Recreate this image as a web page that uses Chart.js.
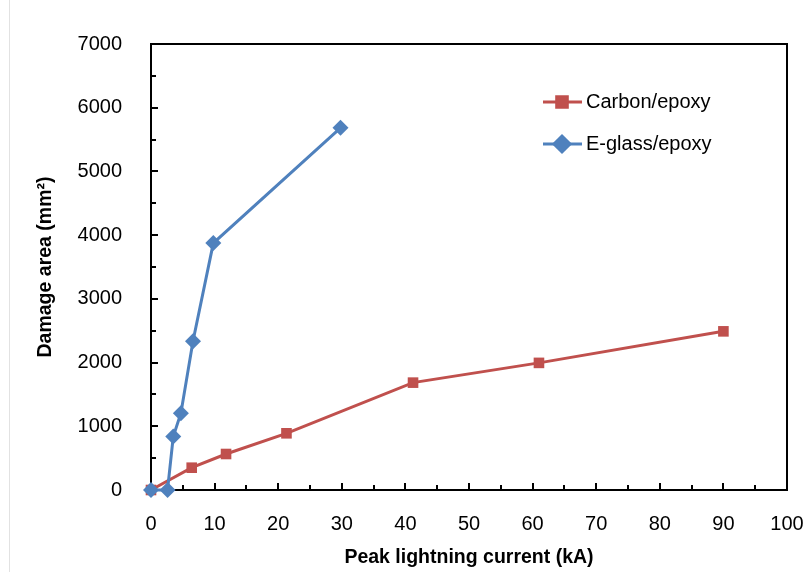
<!DOCTYPE html>
<html>
<head>
<meta charset="utf-8">
<script src="https://cdn.jsdelivr.net/npm/chart.js@4/dist/chart.umd.min.js"></script>
<style>
  html, body { margin: 0; padding: 0; background: #fff; }
  #wrap { position: relative; width: 806px; height: 572px; }
  #edge { position: absolute; left: 9px; top: 0; bottom: 0; border-left: 1px solid #e2e2e2; }
</style>
</head>
<body>
<div id="wrap">
  <div id="edge"></div>
  <canvas id="chart" width="806" height="572"></canvas>
</div>
<script>
// Peak current (kA) vs damage area (mm2)
const carbonX = [0, 6.4, 11.8, 21.3, 41.2, 61, 90];
const carbonY = [0, 350, 565, 890, 1685, 1995, 2490];
const glassX = [0, 2.6, 3.5, 4.7, 6.6, 9.8, 29.8];
const glassY = [0, 0, 840, 1205, 2335, 3875, 5685];

const seriesNames = ['Carbon/epoxy', 'E-glass/epoxy'];
const xTicks = [0, 10, 20, 30, 40, 50, 60, 70, 80, 90, 100];
const yTicks = [0, 1000, 2000, 3000, 4000, 5000, 6000, 7000];

const RED = '#C0504D';
const BLUE = '#4F81BD';
const FONT = "'Liberation Sans', Arial, sans-serif";

const toPoints = (xs, ys) => xs.map((x, i) => ({ x, y: ys[i] }));

// box around the plot, inside ticks (major + minor) and the legend
const framePlugin = {
  id: 'frame',
  beforeDatasetsDraw(chart) {
    const { ctx, chartArea: a, scales: { x, y } } = chart;
    ctx.save();
    ctx.strokeStyle = '#000';
    ctx.lineWidth = 2;
    ctx.beginPath();
    for (let v = 5; v < 100; v += 5) {
      const px = Math.round(x.getPixelForValue(v));
      const len = v % 10 === 0 ? 7 : 5;
      ctx.moveTo(px, a.bottom);
      ctx.lineTo(px, a.bottom - len);
    }
    for (let v = 500; v < 7000; v += 500) {
      const py = Math.round(y.getPixelForValue(v));
      const len = v % 1000 === 0 ? 7 : 5;
      ctx.moveTo(a.left, py);
      ctx.lineTo(a.left + len, py);
    }
    ctx.stroke();
    ctx.strokeRect(a.left, a.top, a.right - a.left, a.bottom - a.top);
    ctx.restore();
  },
  afterDraw(chart) {
    const { ctx } = chart;
    const rows = [
      { ds: chart.data.datasets[1], y: 102 },
      { ds: chart.data.datasets[0], y: 144 },
    ];
    ctx.save();
    rows.forEach(({ ds, y }) => {
      ctx.strokeStyle = ds.borderColor;
      ctx.lineWidth = 3;
      ctx.beginPath();
      ctx.moveTo(543, y);
      ctx.lineTo(582, y);
      ctx.stroke();
      Chart.helpers.drawPoint(ctx, {
        pointStyle: ds.pointStyle,
        radius: ds.pointRadius,
        borderWidth: 1,
      }, 562, y);
      ctx.fillStyle = ds.pointBackgroundColor;
      ctx.fill();
      ctx.fillStyle = '#000';
      ctx.font = '20px ' + FONT;
      ctx.textBaseline = 'middle';
      ctx.textAlign = 'left';
      ctx.fillText(ds.label, 586, y);
    });
    ctx.restore();
  },
};

new Chart(document.getElementById('chart'), {
  type: 'scatter',
  data: {
    datasets: [
      {
        label: seriesNames[1],
        data: toPoints(glassX, glassY),
        showLine: true,
        clip: false,
        borderColor: BLUE,
        borderWidth: 3,
        pointStyle: 'rectRot',
        pointRadius: 8,
        pointBackgroundColor: BLUE,
        pointBorderColor: BLUE,
        pointBorderWidth: 0,
        order: 0,
      },
      {
        label: seriesNames[0],
        data: toPoints(carbonX, carbonY),
        showLine: true,
        clip: false,
        borderColor: RED,
        borderWidth: 3,
        pointStyle: 'rect',
        pointRadius: 7.5,
        pointBackgroundColor: RED,
        pointBorderColor: RED,
        pointBorderWidth: 0,
        order: 1,
      },
    ],
  },
  options: {
    responsive: false,
    animation: false,
    layout: { padding: { top: 44, right: 19, left: 0, bottom: 0 } },
    plugins: {
      legend: { display: false },
      tooltip: { enabled: false },
    },
    scales: {
      x: {
        type: 'linear',
        min: 0,
        max: 100,
        afterFit: (s) => { s.height = 82; s.paddingLeft = 0; s.paddingRight = 0; },
        afterBuildTicks: (s) => { s.ticks = xTicks.map(v => ({ value: v })); },
        grid: { display: false },
        border: { display: false },
        ticks: { color: '#000', padding: 14, font: { family: FONT, size: 20 }, callback: (v) => String(v) },
        title: {
          display: true,
          text: 'Peak lightning current (kA)',
          color: '#000',
          padding: { top: 0, bottom: 3 },
          font: { family: FONT, size: 19.5, weight: 'bold' },
        },
      },
      y: {
        type: 'linear',
        min: 0,
        max: 7000,
        afterFit: (s) => { s.width = 151; s.paddingTop = 0; s.paddingBottom = 0; },
        afterBuildTicks: (s) => { s.ticks = yTicks.map(v => ({ value: v })); },
        grid: { display: false },
        border: { display: false },
        ticks: { color: '#000', padding: 21, font: { family: FONT, size: 20 }, callback: (v) => String(v) },
        title: {
          display: true,
          text: 'Damage area (mm²)',
          color: '#000',
          padding: { top: 34, bottom: 0 },
          font: { family: FONT, size: 19.5, weight: 'bold' },
        },
      },
    },
  },
  plugins: [framePlugin],
});
</script>
</body>
</html>
